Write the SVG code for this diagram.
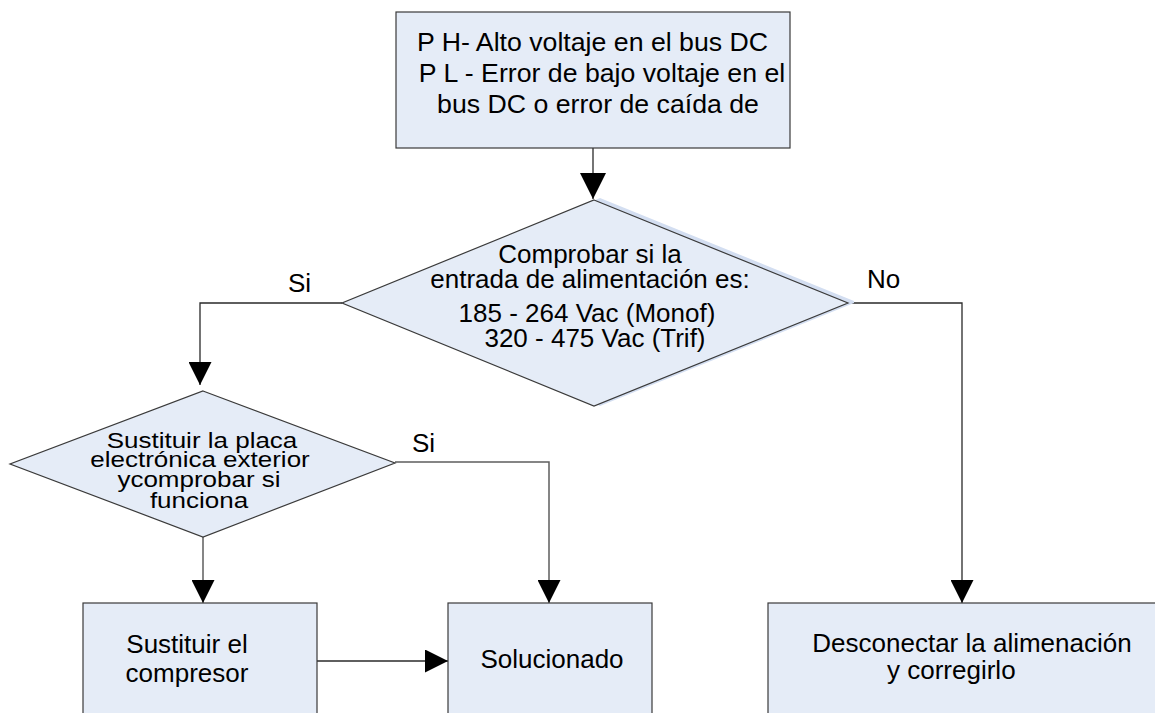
<svg xmlns="http://www.w3.org/2000/svg" width="1155" height="713" viewBox="0 0 1155 713">
<style>
  .shape { fill: #E5ECF7; stroke: #3A3A3A; stroke-width: 1.2; }
  .txt { font-family: "Liberation Sans", Arial, sans-serif; font-size: 26px; fill: #000; }
  .big { font-size: 26.7px; }
  .mid { text-anchor: middle; }
  .conn { fill: none; stroke: #2A2A2A; stroke-width: 1.3; }
  .conn2 { fill: none; stroke: #5E5E5E; stroke-width: 1.5; }
</style>
<defs>
  <marker id="arrow" viewBox="0 0 22 22" refX="22" refY="11" markerWidth="23" markerHeight="23" markerUnits="userSpaceOnUse" orient="auto">
    <path d="M0,0 L22,11 L0,22 z" fill="#000"/>
  </marker>
  <marker id="arrowBig" viewBox="0 0 26 26" refX="26" refY="13" markerWidth="26" markerHeight="26" markerUnits="userSpaceOnUse" orient="auto">
    <path d="M0,0 L26,13 L0,26 z" fill="#000"/>
  </marker>
</defs>
<rect width="1155" height="713" fill="#fff"/>

<g id="connectors">
  <path class="conn" d="M593,148 V199" marker-end="url(#arrowBig)"/>
  <path class="conn" d="M342,303 H200 V385" marker-end="url(#arrow)"/>
  <path class="conn" d="M848,303 H962 V603" marker-end="url(#arrow)"/>
  <path class="conn2" d="M395,462 H549 V603" marker-end="url(#arrow)"/>
  <path class="conn2" d="M203,537 V603" marker-end="url(#arrow)"/>
  <path class="conn" d="M317,661 H448" marker-end="url(#arrow)"/>
  <text class="txt" x="288" y="292">Si</text>
  <text class="txt" x="867" y="288">No</text>
  <text class="txt" x="412" y="452">Si</text>
</g>

<g id="node-error">
  <rect class="shape" x="396" y="12" width="394" height="136"/>
  <text class="txt big" x="417" y="51">P H- Alto voltaje en el bus DC</text>
  <text class="txt big mid" x="602" y="82">P L - Error de bajo voltaje en el</text>
  <text class="txt big mid" x="598" y="113">bus DC o error de caída de</text>
</g>

<g id="node-check-input">
  <polygon points="600,198 854,301 854,303 600,406 348,303" fill="#D3DEF1"/>
  <polygon class="shape" points="594,200 848,303 594,406 342,303" stroke="#1E1E1E" stroke-width="1"/>
  <text class="txt mid" x="590" y="263">Comprobar si la</text>
  <text class="txt mid" x="590" y="288">entrada de alimentación es:</text>
  <text class="txt mid" x="587" y="322">185 - 264 Vac (Monof)</text>
  <text class="txt mid" x="595" y="347">320 - 475 Vac (Trif)</text>
</g>

<g id="node-replace-board">
  <polygon class="shape" points="203,391 395,463 203,537 10,464" stroke="#1E1E1E" stroke-width="1"/>
  <text class="txt mid" transform="translate(202,448) scale(1,0.88)">Sustituir la placa</text>
  <text class="txt mid" transform="translate(200,467) scale(1,0.88)">electrónica exterior</text>
  <text class="txt mid" transform="translate(199,487) scale(1,0.88)">ycomprobar si</text>
  <text class="txt mid" transform="translate(199,508) scale(1,0.88)">funciona</text>
</g>

<g id="node-replace-compressor">
  <rect class="shape" x="83" y="603" width="234" height="130"/>
  <text class="txt mid" x="187" y="653">Sustituir el</text>
  <text class="txt mid" x="187" y="682">compresor</text>
</g>

<g id="node-solved">
  <rect class="shape" x="448" y="603" width="204" height="130"/>
  <text class="txt mid" x="552" y="668">Solucionado</text>
</g>

<g id="node-disconnect">
  <rect class="shape" x="768" y="603" width="410" height="130"/>
  <text class="txt mid" x="972" y="652">Desconectar la alimenación</text>
  <text class="txt" x="887" y="679">y corregirlo</text>
</g>
</svg>
